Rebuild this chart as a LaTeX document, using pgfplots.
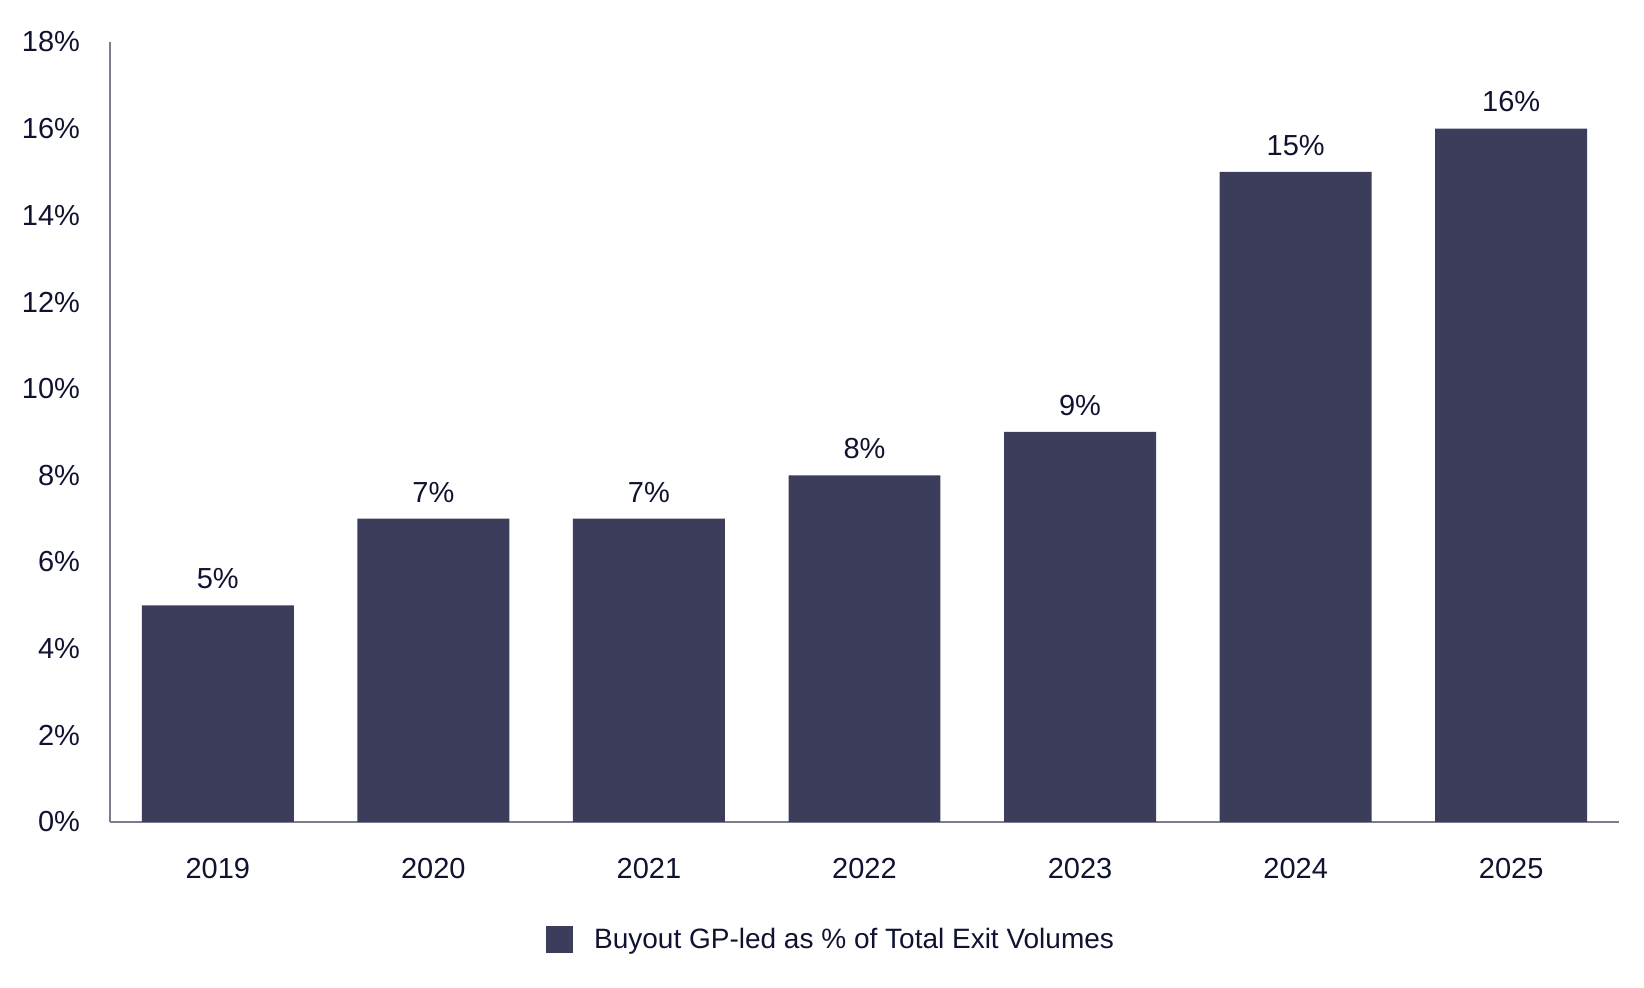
\documentclass[border=0pt]{standalone}
\usepackage{pgfplots}
\pgfplotsset{compat=1.18}
\usepackage{fontspec}
\setmainfont{Liberation Sans}
\definecolor{barnavy}{HTML}{3B3D5A}
\definecolor{inkdark}{HTML}{101330}
\definecolor{axisgray}{HTML}{7B7B91}

\pgfplotstableread{
x year value
0 2019 5
1 2020 7
2 2021 7
3 2022 8
4 2023 9
5 2024 15
6 2025 16
}\exitshare

\begin{document}
\begin{tikzpicture}
\path[use as bounding box] (0,0) rectangle (822pt,494pt);
\begin{axis}[
  at={(55pt,83pt)}, anchor=south west,
  scale only axis,
  width=754.5pt, height=390pt,
  xmin=-0.5, xmax=6.5,
  ymin=0, ymax=18,
  axis x line*=bottom, axis y line*=left,
  axis line style={axisgray, line width=1pt, -},
  major tick length=0pt,
  xtick=data,
  xticklabels={2019,2020,2021,2022,2023,2024,2025},
  ytick={0,2,...,18},
  yticklabel={\pgfmathprintnumber{\tick}\%},
  /pgf/number format/assume math mode=true,
  tick label style={font=\fontsize{14.5}{17}\selectfont, text=inkdark},
  xticklabel style={yshift=-14.7pt},
  yticklabel style={xshift=-11.5pt},
  ybar, bar width=0.705,
  nodes near coords={\pgfmathprintnumber{\pgfplotspointmeta}\%},
  nodes near coords style={font=\fontsize{14.5}{17}\selectfont, text=inkdark, inner sep=0pt, yshift=8pt, anchor=south},
  legend style={draw=none, fill=none, at={(axis description cs:0.4785,-0.151)}, anchor=center,
    font=\fontsize{14}{17}\selectfont, text=inkdark, inner sep=0pt},
  legend image code/.code={\fill[barnavy] (0pt,-6.75pt) rectangle (13.5pt,6.75pt);},
  legend cell align=left,
  clip=false,
]
\addplot[fill=barnavy, draw=none] table[x=x, y=value] {\exitshare};
\addlegendentry{\hspace{8.5pt}Buyout GP-led as \% of Total Exit Volumes}
\end{axis}
\end{tikzpicture}
\end{document}
